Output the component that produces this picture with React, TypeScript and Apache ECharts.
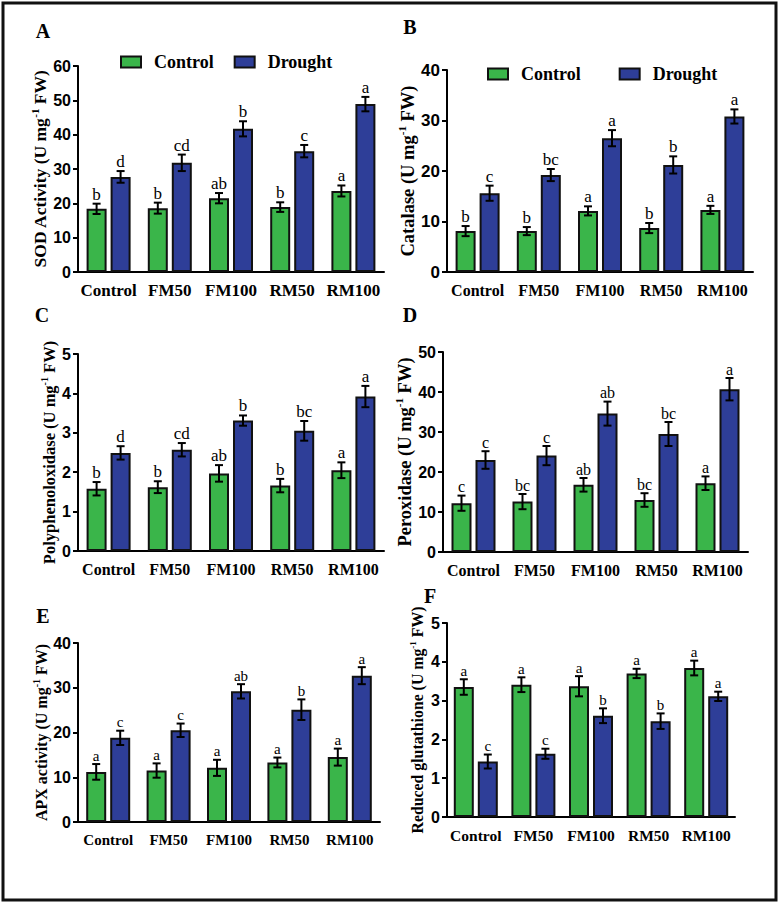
import React, { useEffect, useRef } from 'react';
import * as echarts from 'echarts';

const categories = ['Control', 'FM50', 'FM100', 'RM50', 'RM100'];
const groupNames = ['Control', 'Drought'];

// A — SOD activity
const sodControl = [18.4, 18.6, 21.5, 18.9, 23.6];
const sodControlErr = [1.5, 1.6, 1.5, 1.4, 1.6];
const sodDrought = [27.7, 31.8, 41.7, 35.2, 48.9];
const sodDroughtErr = [1.7, 2.4, 2.2, 1.8, 2.1];
const sodControlLetters = ['b', 'b', 'ab', 'b', 'a'];
const sodDroughtLetters = ['d', 'cd', 'b', 'c', 'a'];

// B — Catalase
const catControl = [8.1, 8.1, 12.1, 8.7, 12.3];
const catControlErr = [1.0, 0.8, 0.9, 1.0, 0.8];
const catDrought = [15.6, 19.2, 26.5, 21.2, 30.8];
const catDroughtErr = [1.5, 1.2, 1.6, 1.7, 1.4];
const catControlLetters = ['b', 'b', 'a', 'b', 'a'];
const catDroughtLetters = ['c', 'bc', 'a', 'b', 'a'];

// C — Polyphenoloxidase
const ppoControl = [1.58, 1.62, 1.97, 1.66, 2.05];
const ppoControlErr = [0.17, 0.15, 0.21, 0.17, 0.2];
const ppoDrought = [2.49, 2.57, 3.31, 3.05, 3.92];
const ppoDroughtErr = [0.17, 0.17, 0.13, 0.25, 0.27];
const ppoControlLetters = ['b', 'b', 'ab', 'b', 'a'];
const ppoDroughtLetters = ['d', 'cd', 'b', 'bc', 'a'];

// D — Peroxidase
const podControl = [12.2, 12.6, 16.8, 13.0, 17.2];
const podControlErr = [1.9, 1.9, 1.7, 1.7, 1.7];
const podDrought = [23.0, 24.1, 34.6, 29.5, 40.7];
const podDroughtErr = [2.2, 2.4, 3.0, 3.0, 2.8];
const podControlLetters = ['c', 'bc', 'ab', 'bc', 'a'];
const podDroughtLetters = ['c', 'c', 'ab', 'bc', 'a'];

// E — APX activity
const apxControl = [11.2, 11.5, 12.1, 13.3, 14.5];
const apxControlErr = [1.75, 1.6, 1.8, 1.1, 1.9];
const apxDrought = [18.8, 20.5, 29.2, 25.1, 32.7];
const apxDroughtErr = [1.6, 1.5, 1.6, 2.3, 1.9];
const apxControlLetters = ['a', 'a', 'a', 'a', 'a'];
const apxDroughtLetters = ['c', 'c', 'ab', 'b', 'a'];

// F — Reduced glutathione
const gshControl = [3.35, 3.41, 3.37, 3.7, 3.84];
const gshControlErr = [0.2, 0.19, 0.26, 0.12, 0.19];
const gshDrought = [1.43, 1.63, 2.61, 2.47, 3.11];
const gshDroughtErr = [0.18, 0.13, 0.19, 0.2, 0.12];
const gshControlLetters = ['a', 'a', 'a', 'a', 'a'];
const gshDroughtLetters = ['c', 'c', 'b', 'b', 'a'];

const panelLetters = ['A', 'B', 'C', 'D', 'E', 'F'];
const yTitles = ['SOD Activity', 'Catalase', 'Polyphenoloxidase', 'Peroxidase', 'APX activity', 'Reduced glutathione'];
const yMaxes = [60, 40, 5, 50, 40, 5];
const yIntervals = [10, 10, 1, 10, 10, 1];

const panels = [
  { c: sodControl, ce: sodControlErr, d: sodDrought, de: sodDroughtErr, cl: sodControlLetters, dl: sodDroughtLetters },
  { c: catControl, ce: catControlErr, d: catDrought, de: catDroughtErr, cl: catControlLetters, dl: catDroughtLetters },
  { c: ppoControl, ce: ppoControlErr, d: ppoDrought, de: ppoDroughtErr, cl: ppoControlLetters, dl: ppoDroughtLetters },
  { c: podControl, ce: podControlErr, d: podDrought, de: podDroughtErr, cl: podControlLetters, dl: podDroughtLetters },
  { c: apxControl, ce: apxControlErr, d: apxDrought, de: apxDroughtErr, cl: apxControlLetters, dl: apxDroughtLetters },
  { c: gshControl, ce: gshControlErr, d: gshDrought, de: gshDroughtErr, cl: gshControlLetters, dl: gshDroughtLetters },
];

// layout (styling only)
const grids = [
  { left: 78, top: 66, width: 306, height: 206 },
  { left: 447, top: 70, width: 306, height: 202 },
  { left: 78, top: 354, width: 306, height: 197 },
  { left: 443, top: 352, width: 305, height: 200 },
  { left: 78, top: 643, width: 302, height: 179 },
  { left: 447, top: 623, width: 288, height: 194 },
];
const titleFont = [17.5, 18.5, 16.5, 18.5, 16, 15.8];
const titleGap = [27, 21, 19, 22, 25, 20];
const xLabelFont = [17, 16, 16, 16, 15, 15.5];
const yLabelFont = [16, 17, 16, 16, 16, 16];
const letterFont = [17, 17, 17, 16, 15, 15];
const panelLetterPos = [
  [43, 31], [410, 27], [42, 315], [410, 315], [43, 616], [430, 596],
];

const GREEN = '#3ab54a';
const BLUE = '#2e3e98';
const SERIF = '"Liberation Serif", "Times New Roman", serif';
const SANS = '"Liberation Sans", Arial, sans-serif';
const BAR_W = 20;
const BAR_GAP_PX = 4;
const OFFSET = (BAR_W + BAR_GAP_PX) / 2;

function makeErrorRender(offset: number, letters: string[], fontSize: number) {
  return (params: any, api: any) => {
    const i = api.value(0);
    const v = api.value(1);
    const e = api.value(2);
    const t = api.coord([i, v + e]);
    const b = api.coord([i, v - e]);
    const x = t[0] + offset;
    const cap = 4;
    const ls = { stroke: '#000', lineWidth: 2 };
    return {
      type: 'group',
      children: [
        { type: 'line', shape: { x1: x, y1: t[1], x2: x, y2: b[1] }, style: ls },
        { type: 'line', shape: { x1: x - cap, y1: t[1], x2: x + cap, y2: t[1] }, style: ls },
        { type: 'line', shape: { x1: x - cap, y1: b[1], x2: x + cap, y2: b[1] }, style: ls },
        {
          type: 'text',
          x,
          y: t[1] - 1,
          style: {
            text: letters[params.dataIndex],
            align: 'center',
            verticalAlign: 'bottom',
            fontSize,
            fontFamily: SERIF,
            fill: '#000',
          },
        },
      ],
    };
  };
}

export default function App() {
  const ref = useRef<HTMLDivElement>(null);
  useEffect(() => {
    if (!ref.current) return;
    const chart = echarts.init(ref.current, null, { renderer: 'svg' });

    const xAxis: any[] = [];
    const yAxis: any[] = [];
    const series: any[] = [];
    panels.forEach((p, k) => {
      const fs = titleFont[k];
      xAxis.push({
        type: 'category',
        gridIndex: k,
        data: categories,
        axisLine: { lineStyle: { color: '#000', width: 2 } },
        axisTick: { alignWithLabel: true, length: 5, lineStyle: { color: '#000', width: 2 } },
        axisLabel: {
          interval: 0,
          margin: 10,
          color: '#000',
          fontFamily: SERIF,
          fontWeight: 'bold',
          fontSize: xLabelFont[k],
        },
      });
      yAxis.push({
        type: 'value',
        gridIndex: k,
        min: 0,
        max: yMaxes[k],
        interval: yIntervals[k],
        axisLine: { show: true, lineStyle: { color: '#000', width: 2 } },
        axisTick: { show: true, length: 5, lineStyle: { color: '#000', width: 2 } },
        splitLine: { show: false },
        axisLabel: {
          margin: 7,
          color: '#000',
          fontFamily: SANS,
          fontWeight: 'bold',
          fontSize: yLabelFont[k],
        },
        name: `{t|${yTitles[k]} (U mg}{s|-1}{t| FW)}`,
        nameLocation: 'middle',
        nameRotate: 90,
        nameGap: titleGap[k],
        nameTextStyle: {
          rich: {
            t: {
              fontFamily: SERIF,
              fontWeight: 'bold',
              fontSize: fs,
              color: '#000',
              lineHeight: Math.round(fs * 1.2),
            },
            s: {
              fontFamily: SERIF,
              fontWeight: 'bold',
              fontSize: Math.round(fs * 0.6),
              color: '#000',
              verticalAlign: 'top',
              lineHeight: Math.round(fs * 0.6),
            },
          },
        },
      });
      const barCommon = {
        type: 'bar',
        xAxisIndex: k,
        yAxisIndex: k,
        barWidth: BAR_W,
        barGap: `${(BAR_GAP_PX / BAR_W) * 100}%`,
      };
      series.push({
        ...barCommon,
        name: groupNames[0],
        data: p.c,
        itemStyle: { color: GREEN, borderColor: '#111', borderWidth: 2 },
      });
      series.push({
        ...barCommon,
        name: groupNames[1],
        data: p.d,
        itemStyle: { color: BLUE, borderColor: '#111', borderWidth: 2 },
      });
      series.push({
        type: 'custom',
        name: groupNames[0],
        xAxisIndex: k,
        yAxisIndex: k,
        z: 5,
        silent: true,
        clip: false,
        encode: { x: 0, y: 1 },
        data: p.c.map((v, i) => [i, v, p.ce[i]]),
        renderItem: makeErrorRender(-OFFSET, p.cl, letterFont[k]),
      });
      series.push({
        type: 'custom',
        name: groupNames[1],
        xAxisIndex: k,
        yAxisIndex: k,
        z: 5,
        silent: true,
        clip: false,
        encode: { x: 0, y: 1 },
        data: p.d.map((v, i) => [i, v, p.de[i]]),
        renderItem: makeErrorRender(OFFSET, p.dl, letterFont[k]),
      });
    });

    const legendCommon = {
      data: groupNames,
      icon: 'rect',
      itemWidth: 20,
      itemHeight: 11,
      orient: 'horizontal',
      selectedMode: false,
      textStyle: {
        fontFamily: SERIF,
        fontWeight: 'bold',
        fontSize: 18,
        color: '#000',
        lineHeight: 20,
        padding: [0, 0, 0, 8],
      },
    };

    const graphic: any[] = [
      {
        type: 'rect',
        shape: { x: 3, y: 3, width: 773, height: 897 },
        style: { fill: 'none', stroke: '#111', lineWidth: 3 },
        silent: true,
      },
      ...panelLetters.map((L, k) => ({
        type: 'text',
        x: panelLetterPos[k][0],
        y: panelLetterPos[k][1],
        style: {
          text: L,
          align: 'center',
          verticalAlign: 'middle',
          fontFamily: SERIF,
          fontWeight: 'bold',
          fontSize: 20,
          fill: '#000',
        },
      })),
    ];

    chart.setOption({
      animation: false,
      backgroundColor: '#fff',
      grid: grids.map((g) => ({ ...g, containLabel: false })),
      xAxis,
      yAxis,
      legend: [
        { ...legendCommon, left: 115, top: 47, itemGap: 20 },
        { ...legendCommon, left: 482, top: 59, itemGap: 38 },
      ],
      graphic,
      series,
    });
    return () => chart.dispose();
  }, []);
  return (
    <div
      ref={ref}
      style={{ position: 'fixed', left: 0, top: 0, width: 780, height: 905, background: '#fff' }}
    />
  );
}
